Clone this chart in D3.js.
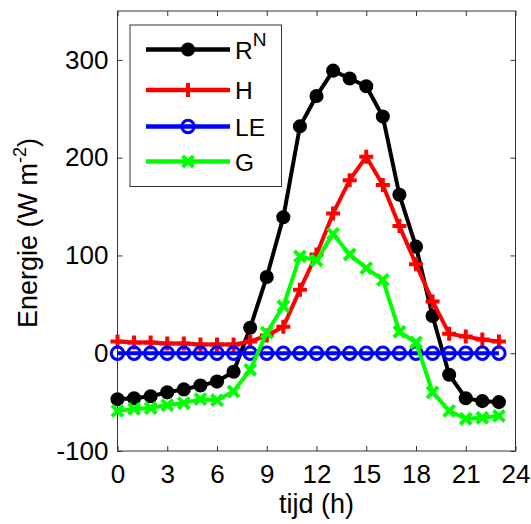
<!DOCTYPE html>
<html><head><meta charset="utf-8">
<script src="https://cdn.jsdelivr.net/npm/d3@7"></script>
<style>body{margin:0;background:#fff}svg{display:block;font-family:"Liberation Sans",Arial,sans-serif}</style>
</head><body><svg id="c" width="531" height="524"></svg>
<script>
const hours = d3.range(0, 24);
const RN = [-47,-46,-44,-40,-37,-33,-29,-19,26,78,139,232,263,289,281,273,242,162,109,38,-22,-46,-49,-50];
const H  = [12,11,11,10,10,9,9,9,12,18,27,65,101,143,177,201,172,130,91,53,20,17,14,12];
const LE = [0,0,0,0,0,0,0,0,0,0,0,0,0,0,0,0,0,0,0,0,0,0,0,0];
const G  = [-59,-57,-56,-53,-51,-47,-48,-39,-17,21,48,99,95,122,101,87,75,22,11,-40,-59,-67,-66,-64];
const xTicks = [0,3,6,9,12,15,18,21,24];
const yTicks = [-100,0,100,200,300];
const seriesNames = ["R","H","LE","G"];

const svg = d3.select("#c");
const L=117.5, R=515.5, T=11, B=451;
const x = d3.scaleLinear().domain([0,24]).range([L,R]);
const y = d3.scaleLinear().domain([-100,350]).range([B,T]);

const series = [
  {name:"RN", vals:RN, color:"#000000", marker:"dot"},
  {name:"H", vals:H, color:"#ff0000", marker:"plus"},
  {name:"LE", vals:LE, color:"#0000ff", marker:"circle"},
  {name:"G", vals:G, color:"#00ff00", marker:"x"}
];

const fs = 26, tfs = 27;
const fmt = d => String(d);
const gx = svg.append("g").attr("transform",`translate(0,${B})`)
  .call(d3.axisBottom(x).tickValues(xTicks).tickSizeInner(-5).tickSizeOuter(0).tickPadding(13.5).tickFormat(fmt));
const gxt = svg.append("g").attr("transform",`translate(0,${T})`)
  .call(d3.axisTop(x).tickValues(xTicks).tickSizeInner(-5).tickSizeOuter(0).tickFormat(""));
const gy = svg.append("g").attr("transform",`translate(${L},0)`)
  .call(d3.axisLeft(y).tickValues(yTicks).tickSizeInner(-5).tickSizeOuter(0).tickPadding(9).tickFormat(fmt));
const gyr = svg.append("g").attr("transform",`translate(${R},0)`)
  .call(d3.axisRight(y).tickValues(yTicks).tickSizeInner(-5).tickSizeOuter(0).tickFormat(""));
[gx,gxt,gy,gyr].forEach(g=>{
  g.select(".domain").remove();
  g.selectAll("line").attr("stroke","#333").attr("stroke-width",1);
  g.selectAll("text").attr("font-size",fs).attr("fill","#000").attr("font-family","Liberation Sans, Arial, sans-serif");
});
gx.selectAll("text").attr("dy","0.71em");
svg.append("rect").attr("x",L).attr("y",T).attr("width",R-L).attr("height",B-T)
  .attr("fill","none").attr("stroke","#333").attr("stroke-width",1);

// axis titles
svg.append("text").attr("x",(L+R)/2).attr("y",513).attr("text-anchor","middle")
  .attr("font-size",tfs).text("tijd (h)");
const yl = svg.append("text").attr("transform",`translate(37,233) rotate(-90)`)
  .attr("text-anchor","middle").attr("font-size",tfs);
yl.append("tspan").text("Energie (W m");
yl.append("tspan").attr("dy",-11).attr("font-size",18).text("-2");
yl.append("tspan").attr("dy",11).text(")");

function drawMarker(g, type, color, cx, cy){
  if(type==="dot"){
    g.append("circle").attr("cx",cx).attr("cy",cy).attr("r",6.3).attr("fill",color).attr("stroke",color).attr("stroke-width",1.5);
  } else if(type==="plus"){
    const s=7;
    g.append("path").attr("d",`M${cx-s},${cy}H${cx+s}M${cx},${cy-s}V${cy+s}`).attr("stroke",color).attr("stroke-width",4).attr("fill","none");
  } else if(type==="circle"){
    g.append("circle").attr("cx",cx).attr("cy",cy).attr("r",6.2).attr("fill","none").attr("stroke",color).attr("stroke-width",3);
  } else if(type==="x"){
    const s=5.5;
    g.append("path").attr("d",`M${cx-s},${cy-s}L${cx+s},${cy+s}M${cx-s},${cy+s}L${cx+s},${cy-s}`).attr("stroke",color).attr("stroke-width",4).attr("fill","none");
  }
}

const line = d3.line().x((d,i)=>x(hours[i])).y(d=>y(d));
series.forEach(s=>{
  const g = svg.append("g");
  g.append("path").datum(s.vals).attr("d",line).attr("fill","none")
    .attr("stroke",s.color).attr("stroke-width",4).attr("stroke-linejoin","round");
  s.vals.forEach((v,i)=>drawMarker(g, s.marker, s.color, x(hours[i]), y(v)));
});

// legend
const lg = svg.append("g");
lg.append("rect").attr("x",130).attr("y",25).attr("width",151.5).attr("height",161.5)
  .attr("fill","#fff").attr("stroke","#333").attr("stroke-width",1);
const rowsY=[49.5,90,126.5,161.5];
series.forEach((s,i)=>{
  const yy=rowsY[i];
  lg.append("line").attr("x1",146).attr("x2",230).attr("y1",yy).attr("y2",yy)
    .attr("stroke",s.color).attr("stroke-width",4.5);
  drawMarker(lg, s.marker, s.color, 188, yy);
  const t = lg.append("text").attr("x",235).attr("y",yy+9).attr("font-size",24.5);
  if(i===0){
    t.append("tspan").text("R");
    t.append("tspan").attr("dy",-13).attr("font-size",19).text("N");
  } else t.text(seriesNames[i]);
});
</script></body></html>
